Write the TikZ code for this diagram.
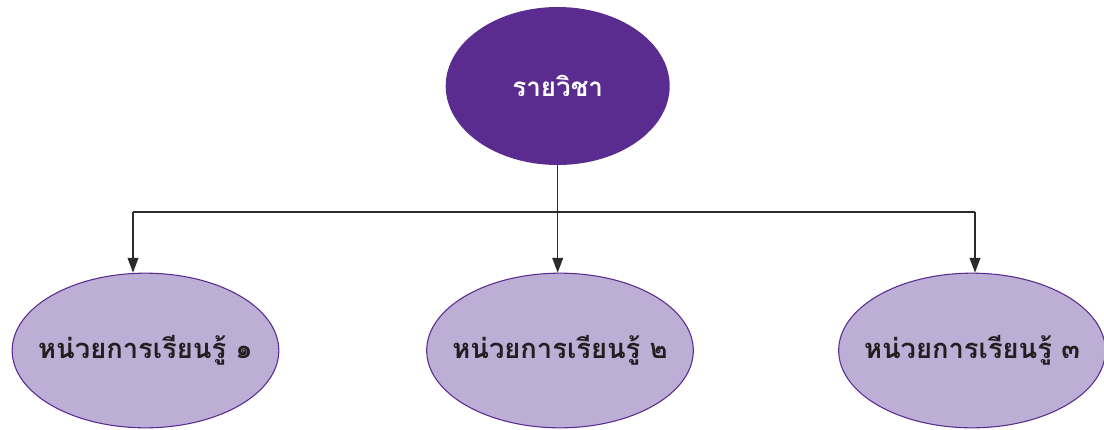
\documentclass[tikz,border=0pt]{standalone}
\usepackage{fontspec}
\newfontfamily\thaifont[Script=Thai]{Loma}
\usetikzlibrary{shapes.geometric,arrows.meta}
\definecolor{deeppurple}{HTML}{5B2C8F}
\definecolor{lightpurple}{HTML}{BDAED6}
\definecolor{txtdark}{HTML}{231F20}
\definecolor{linegray}{HTML}{2B2B2B}
\tikzset{
  topnode/.style={ellipse, fill=deeppurple, draw=none, minimum width=168pt, minimum height=118.5pt, inner sep=0pt, text=white, font=\thaifont\bfseries\fontsize{19.5}{22}\selectfont},
  unitnode/.style={ellipse, fill=lightpurple, draw=deeppurple, line width=0.8pt, minimum width=200pt, minimum height=116pt, inner sep=0pt, text=txtdark, font=\thaifont\bfseries\fontsize{20.5}{23}\selectfont},
  conn/.style={draw=linegray, line width=1.1pt},
  arr/.style={conn, -{Triangle[width=8pt,length=11pt]}}
}
\begin{document}
\begin{tikzpicture}[x=0.75pt,y=-0.75pt]
\useasboundingbox (0,0) rectangle (1104,429);
\node[topnode] (top) at (557.7,86) {\makebox[0pt]{\raisebox{-6pt}{รายวิชา}}};
\node[unitnode] (u1) at (145.5,350.5) {\makebox[0pt]{\raisebox{-2pt}{หน่วยการเรียนรู้ ๑}}};
\node[unitnode] (u2) at (560,350.5) {\makebox[0pt]{\raisebox{-2pt}{หน่วยการเรียนรู้ ๒}}};
\node[unitnode] (u3) at (972,350.5) {\makebox[0pt]{\raisebox{-2pt}{หน่วยการเรียนรู้ ๓}}};
\coordinate (j) at (557.7,212);
\coordinate (jl) at (133,212);
\coordinate (jr) at (975,212);
\draw[conn] (top.south) -- (top.south |- j);
\draw[conn] (jl) -- (jr);
\draw[arr] (jl) -- (jl |- u1.north);
\draw[arr] (j) -- (j |- u2.north);
\draw[arr] (jr) -- (jr |- u3.north);
\end{tikzpicture}
\end{document}
